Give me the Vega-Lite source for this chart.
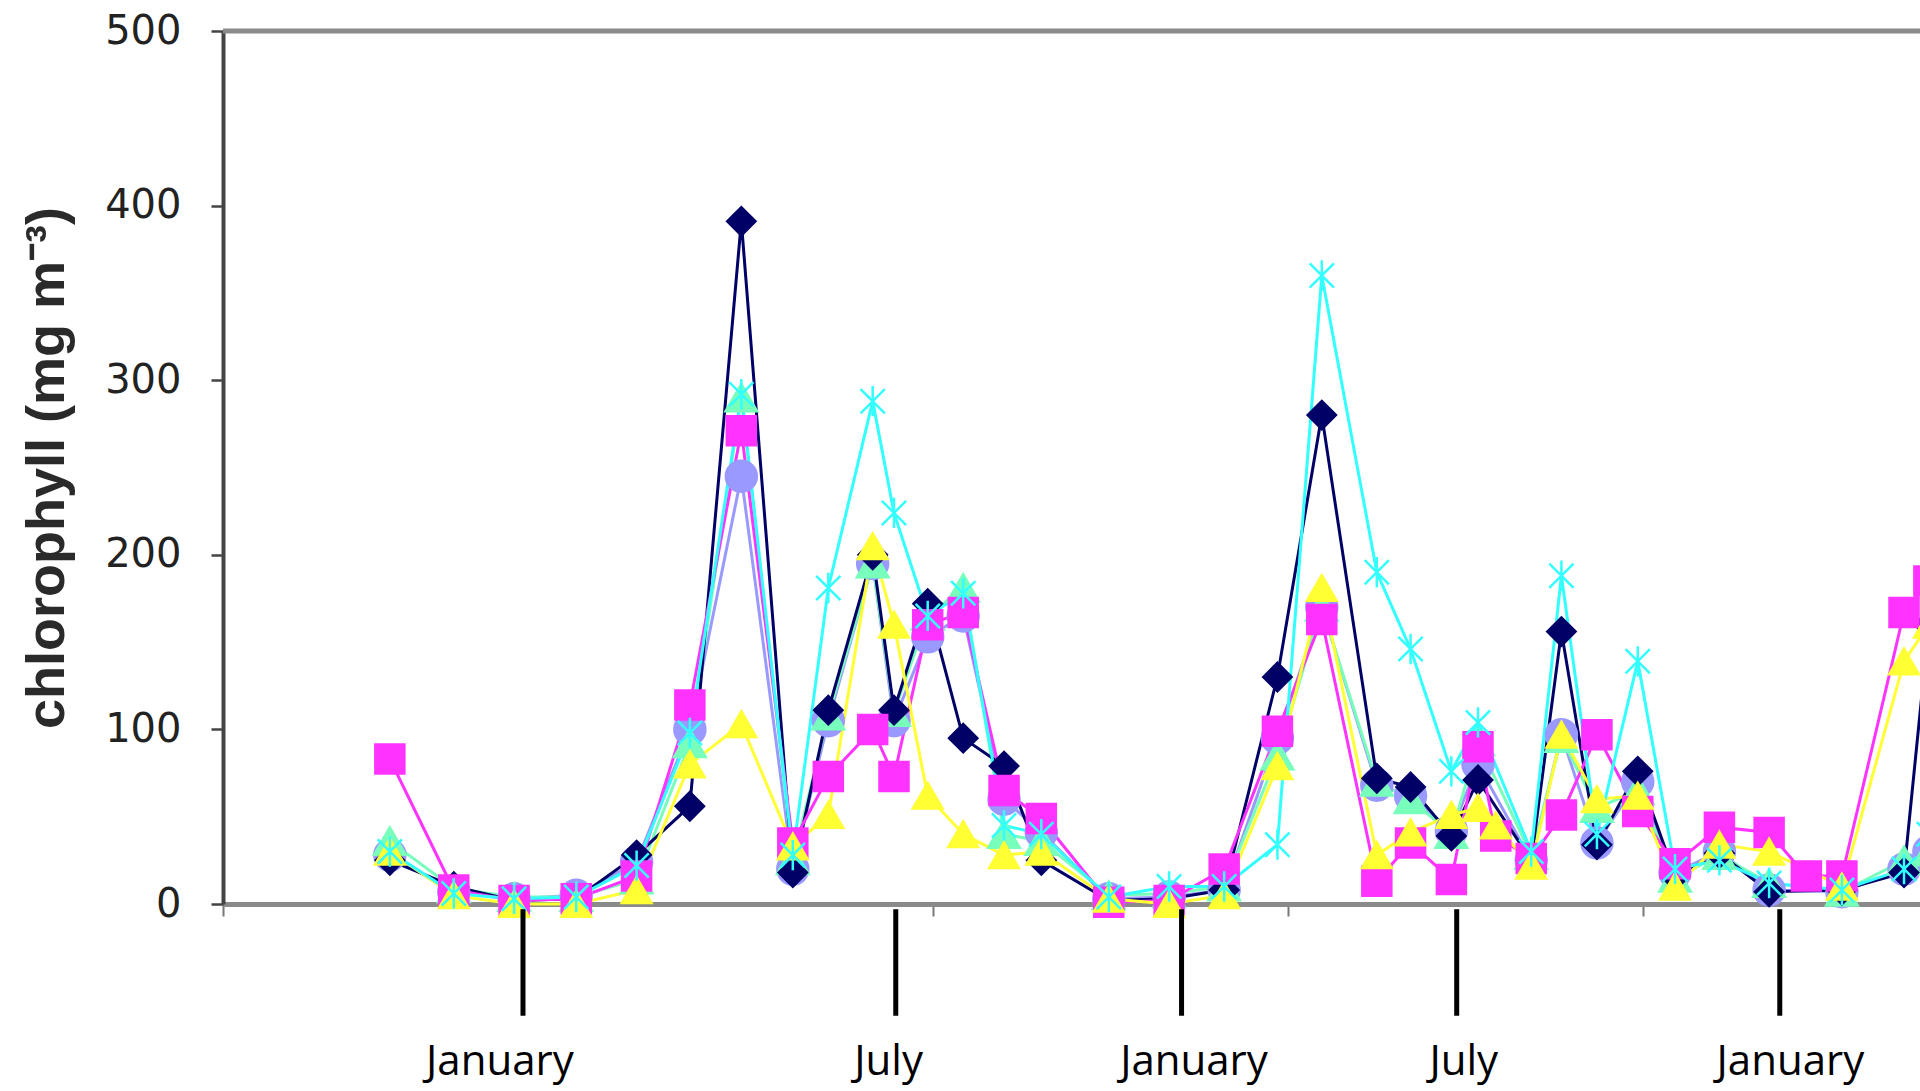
{
  "$schema": "https://vega.github.io/schema/vega-lite/v6.json",
  "width": 1697,
  "height": 873,
  "autosize": {"type": "none"},
  "padding": {"left": 223, "top": 31, "right": 0, "bottom": 187},
  "background": "white",
  "config": {"view": {"stroke": null}, "axis": {"grid": false}},
  "datasets": {
    "months": [
      {"label": "January", "day": 169, "tday": 156},
      {"label": "July", "day": 379, "tday": 375},
      {"label": "January", "day": 540, "tday": 547},
      {"label": "July", "day": 695, "tday": 699},
      {"label": "January", "day": 877, "tday": 883}
    ],
    "chl": [
      {"series":"Site 5","day":94,"chl":28},{"series":"Site 5","day":130,"chl":7},{"series":"Site 5","day":164,"chl":3},{"series":"Site 5","day":199,"chl":5},{"series":"Site 5","day":233,"chl":24},{"series":"Site 5","day":263,"chl":100},{"series":"Site 5","day":292,"chl":245},{"series":"Site 5","day":321,"chl":20},{"series":"Site 5","day":341,"chl":105},{"series":"Site 5","day":366,"chl":195},{"series":"Site 5","day":378,"chl":105},{"series":"Site 5","day":397,"chl":153},{"series":"Site 5","day":417,"chl":165},{"series":"Site 5","day":440,"chl":60},{"series":"Site 5","day":461,"chl":41},{"series":"Site 5","day":499,"chl":3},{"series":"Site 5","day":533,"chl":4},{"series":"Site 5","day":564,"chl":8},{"series":"Site 5","day":594,"chl":95},{"series":"Site 5","day":619,"chl":170},{"series":"Site 5","day":650,"chl":68},{"series":"Site 5","day":669,"chl":62},{"series":"Site 5","day":692,"chl":42},{"series":"Site 5","day":707,"chl":80},{"series":"Site 5","day":737,"chl":25},{"series":"Site 5","day":754,"chl":97},{"series":"Site 5","day":774,"chl":35},{"series":"Site 5","day":797,"chl":70},{"series":"Site 5","day":818,"chl":18},{"series":"Site 5","day":843,"chl":30},{"series":"Site 5","day":871,"chl":8},{"series":"Site 5","day":912,"chl":7},{"series":"Site 5","day":947,"chl":20},{"series":"Site 5","day":961,"chl":30},
      {"series":"Site 6","day":94,"chl":36},{"series":"Site 6","day":130,"chl":9},{"series":"Site 6","day":164,"chl":4},{"series":"Site 6","day":199,"chl":4},{"series":"Site 6","day":233,"chl":14},{"series":"Site 6","day":263,"chl":92},{"series":"Site 6","day":292,"chl":290},{"series":"Site 6","day":321,"chl":25},{"series":"Site 6","day":341,"chl":108},{"series":"Site 6","day":366,"chl":195},{"series":"Site 6","day":378,"chl":110},{"series":"Site 6","day":397,"chl":165},{"series":"Site 6","day":417,"chl":181},{"series":"Site 6","day":440,"chl":40},{"series":"Site 6","day":461,"chl":36},{"series":"Site 6","day":499,"chl":5},{"series":"Site 6","day":533,"chl":6},{"series":"Site 6","day":564,"chl":10},{"series":"Site 6","day":594,"chl":85},{"series":"Site 6","day":619,"chl":170},{"series":"Site 6","day":650,"chl":70},{"series":"Site 6","day":669,"chl":60},{"series":"Site 6","day":692,"chl":40},{"series":"Site 6","day":707,"chl":93},{"series":"Site 6","day":737,"chl":28},{"series":"Site 6","day":754,"chl":95},{"series":"Site 6","day":774,"chl":55},{"series":"Site 6","day":797,"chl":65},{"series":"Site 6","day":818,"chl":15},{"series":"Site 6","day":843,"chl":28},{"series":"Site 6","day":871,"chl":12},{"series":"Site 6","day":912,"chl":7},{"series":"Site 6","day":947,"chl":25},{"series":"Site 6","day":961,"chl":30},
      {"series":"Site 1","day":94,"chl":25},{"series":"Site 1","day":130,"chl":10},{"series":"Site 1","day":164,"chl":2},{"series":"Site 1","day":199,"chl":3},{"series":"Site 1","day":233,"chl":28},{"series":"Site 1","day":263,"chl":56},{"series":"Site 1","day":292,"chl":391},{"series":"Site 1","day":321,"chl":18},{"series":"Site 1","day":341,"chl":111},{"series":"Site 1","day":366,"chl":200},{"series":"Site 1","day":378,"chl":111},{"series":"Site 1","day":397,"chl":172},{"series":"Site 1","day":417,"chl":95},{"series":"Site 1","day":440,"chl":79},{"series":"Site 1","day":461,"chl":25},{"series":"Site 1","day":499,"chl":2},{"series":"Site 1","day":533,"chl":3},{"series":"Site 1","day":564,"chl":8},{"series":"Site 1","day":594,"chl":130},{"series":"Site 1","day":619,"chl":280},{"series":"Site 1","day":650,"chl":72},{"series":"Site 1","day":669,"chl":67},{"series":"Site 1","day":692,"chl":39},{"series":"Site 1","day":707,"chl":71},{"series":"Site 1","day":737,"chl":25},{"series":"Site 1","day":754,"chl":156},{"series":"Site 1","day":774,"chl":34},{"series":"Site 1","day":797,"chl":76},{"series":"Site 1","day":818,"chl":16},{"series":"Site 1","day":843,"chl":29},{"series":"Site 1","day":871,"chl":7},{"series":"Site 1","day":912,"chl":8},{"series":"Site 1","day":947,"chl":18},{"series":"Site 1","day":961,"chl":160},
      {"series":"Site 2","day":94,"chl":83},{"series":"Site 2","day":130,"chl":8},{"series":"Site 2","day":164,"chl":2},{"series":"Site 2","day":199,"chl":3},{"series":"Site 2","day":233,"chl":16},{"series":"Site 2","day":263,"chl":114},{"series":"Site 2","day":292,"chl":271},{"series":"Site 2","day":321,"chl":35},{"series":"Site 2","day":341,"chl":73},{"series":"Site 2","day":366,"chl":100},{"series":"Site 2","day":378,"chl":73},{"series":"Site 2","day":397,"chl":160},{"series":"Site 2","day":417,"chl":167},{"series":"Site 2","day":440,"chl":65},{"series":"Site 2","day":461,"chl":49},{"series":"Site 2","day":499,"chl":1},{"series":"Site 2","day":533,"chl":2},{"series":"Site 2","day":564,"chl":20},{"series":"Site 2","day":594,"chl":99},{"series":"Site 2","day":619,"chl":163},{"series":"Site 2","day":650,"chl":13},{"series":"Site 2","day":669,"chl":35},{"series":"Site 2","day":692,"chl":14},{"series":"Site 2","day":707,"chl":90},{"series":"Site 2","day":717,"chl":39},{"series":"Site 2","day":737,"chl":26},{"series":"Site 2","day":754,"chl":51},{"series":"Site 2","day":774,"chl":97},{"series":"Site 2","day":797,"chl":53},{"series":"Site 2","day":818,"chl":23},{"series":"Site 2","day":843,"chl":44},{"series":"Site 2","day":871,"chl":41},{"series":"Site 2","day":892,"chl":16},{"series":"Site 2","day":912,"chl":16},{"series":"Site 2","day":947,"chl":167},{"series":"Site 2","day":961,"chl":185},
      {"series":"Site 3","day":94,"chl":30},{"series":"Site 3","day":130,"chl":5},{"series":"Site 3","day":164,"chl":0},{"series":"Site 3","day":199,"chl":0},{"series":"Site 3","day":233,"chl":8},{"series":"Site 3","day":263,"chl":80},{"series":"Site 3","day":292,"chl":103},{"series":"Site 3","day":321,"chl":33},{"series":"Site 3","day":341,"chl":51},{"series":"Site 3","day":366,"chl":205},{"series":"Site 3","day":378,"chl":160},{"series":"Site 3","day":397,"chl":62},{"series":"Site 3","day":417,"chl":40},{"series":"Site 3","day":440,"chl":28},{"series":"Site 3","day":461,"chl":30},{"series":"Site 3","day":499,"chl":3},{"series":"Site 3","day":533,"chl":0},{"series":"Site 3","day":564,"chl":5},{"series":"Site 3","day":594,"chl":79},{"series":"Site 3","day":619,"chl":181},{"series":"Site 3","day":650,"chl":28},{"series":"Site 3","day":669,"chl":41},{"series":"Site 3","day":692,"chl":51},{"series":"Site 3","day":707,"chl":55},{"series":"Site 3","day":717,"chl":45},{"series":"Site 3","day":737,"chl":22},{"series":"Site 3","day":754,"chl":97},{"series":"Site 3","day":774,"chl":60},{"series":"Site 3","day":797,"chl":62},{"series":"Site 3","day":818,"chl":10},{"series":"Site 3","day":843,"chl":34},{"series":"Site 3","day":871,"chl":30},{"series":"Site 3","day":912,"chl":10},{"series":"Site 3","day":947,"chl":139},{"series":"Site 3","day":961,"chl":160},
      {"series":"Site 4","day":94,"chl":30},{"series":"Site 4","day":130,"chl":6},{"series":"Site 4","day":164,"chl":3},{"series":"Site 4","day":199,"chl":4},{"series":"Site 4","day":233,"chl":22},{"series":"Site 4","day":263,"chl":98},{"series":"Site 4","day":292,"chl":292},{"series":"Site 4","day":321,"chl":28},{"series":"Site 4","day":341,"chl":181},{"series":"Site 4","day":366,"chl":288},{"series":"Site 4","day":378,"chl":224},{"series":"Site 4","day":397,"chl":165},{"series":"Site 4","day":417,"chl":178},{"series":"Site 4","day":440,"chl":45},{"series":"Site 4","day":461,"chl":40},{"series":"Site 4","day":499,"chl":4},{"series":"Site 4","day":533,"chl":10},{"series":"Site 4","day":564,"chl":10},{"series":"Site 4","day":594,"chl":34},{"series":"Site 4","day":619,"chl":360},{"series":"Site 4","day":650,"chl":190},{"series":"Site 4","day":669,"chl":146},{"series":"Site 4","day":692,"chl":76},{"series":"Site 4","day":707,"chl":104},{"series":"Site 4","day":737,"chl":30},{"series":"Site 4","day":754,"chl":188},{"series":"Site 4","day":774,"chl":40},{"series":"Site 4","day":797,"chl":139},{"series":"Site 4","day":818,"chl":20},{"series":"Site 4","day":843,"chl":25},{"series":"Site 4","day":871,"chl":12},{"series":"Site 4","day":912,"chl":8},{"series":"Site 4","day":947,"chl":20},{"series":"Site 4","day":961,"chl":40}
    ]
  },
  "layer": [
    {
      "data": {"values": [{"top": 500}]},
      "mark": {"type": "rule", "color": "#8a8a8a", "strokeWidth": 5},
      "encoding": {"y": {"field": "top", "type": "quantitative"}}
    },
    {
      "data": {"name": "chl"},
      "mark": {"type": "line", "strokeWidth": 3},
      "encoding": {
        "x": {"field": "day", "type": "quantitative",
          "scale": {"domain": [0, 956], "nice": false, "zero": false},
          "axis": {"title": null, "values": [0, 200, 400, 600, 800], "labels": false, "domainColor": "#8a8a8a", "domainWidth": 5, "tickColor": "#777777", "tickWidth": 2, "tickSize": 12}},
        "y": {"field": "chl", "type": "quantitative",
          "scale": {"domain": [0, 500], "nice": false},
          "axis": {"title": "chlorophyll (mg m⁻³)", "values": [0, 100, 200, 300, 400, 500], "domainColor": "#444444", "domainWidth": 4, "tickColor": "#444444", "tickWidth": 2.5, "tickSize": 12, "labelFont": "DejaVu Sans", "labelFontSize": 40, "labelColor": "#222222", "labelPadding": 30, "titleFont": "Liberation Sans", "titleFontSize": 54, "titleFontWeight": "bold", "titleColor": "#2a2a2a", "titlePadding": 30}},
        "color": {"field": "series", "type": "nominal", "legend": null,
          "scale": {"domain": ["Site 1", "Site 2", "Site 3", "Site 4", "Site 5", "Site 6"], "range": ["#000066", "#ff33ff", "#ffff33", "#33ffff", "#9999ff", "#77ffbb"]}},
        "order": {"field": "day", "type": "quantitative"}
      }
    },
    {
      "data": {"name": "chl"},
      "mark": {"type": "point", "filled": true, "opacity": 1, "strokeWidth": 2.5},
      "encoding": {
        "x": {"field": "day", "type": "quantitative"},
        "y": {"field": "chl", "type": "quantitative"},
        "color": {"field": "series", "type": "nominal", "legend": null},
        "stroke": {"field": "series", "type": "nominal", "legend": null,
          "scale": {"domain": ["Site 1", "Site 2", "Site 3", "Site 4", "Site 5", "Site 6"], "range": ["#000066", "#ff33ff", "#ffff33", "#33ffff", "#9999ff", "#77ffbb"]}},
        "shape": {"field": "series", "type": "nominal", "legend": null,
          "scale": {"domain": ["Site 1", "Site 2", "Site 3", "Site 4", "Site 5", "Site 6"], "range": ["diamond", "square", "triangle-up", "M-0.8,-0.8L0.8,0.8M-0.8,0.8L0.8,-0.8M0,-1L0,1", "circle", "triangle-up"]}},
        "size": {"field": "series", "type": "nominal", "legend": null,
          "scale": {"domain": ["Site 1", "Site 2", "Site 3", "Site 4", "Site 5", "Site 6"], "range": [800, 1000, 700, 700, 350, 450]}}
      }
    },
    {
      "data": {"name": "months"},
      "mark": {"type": "rule", "color": "black", "strokeWidth": 5},
      "encoding": {
        "x": {"field": "day", "type": "quantitative"},
        "y": {"datum": -3},
        "y2": {"datum": -64}
      }
    },
    {
      "data": {"name": "months"},
      "mark": {"type": "text", "font": "Open Sans", "fontSize": 42, "color": "black", "baseline": "alphabetic", "align": "center"},
      "encoding": {
        "x": {"field": "tday", "type": "quantitative"},
        "y": {"datum": -98},
        "text": {"field": "label"}
      }
    }
  ]
}
